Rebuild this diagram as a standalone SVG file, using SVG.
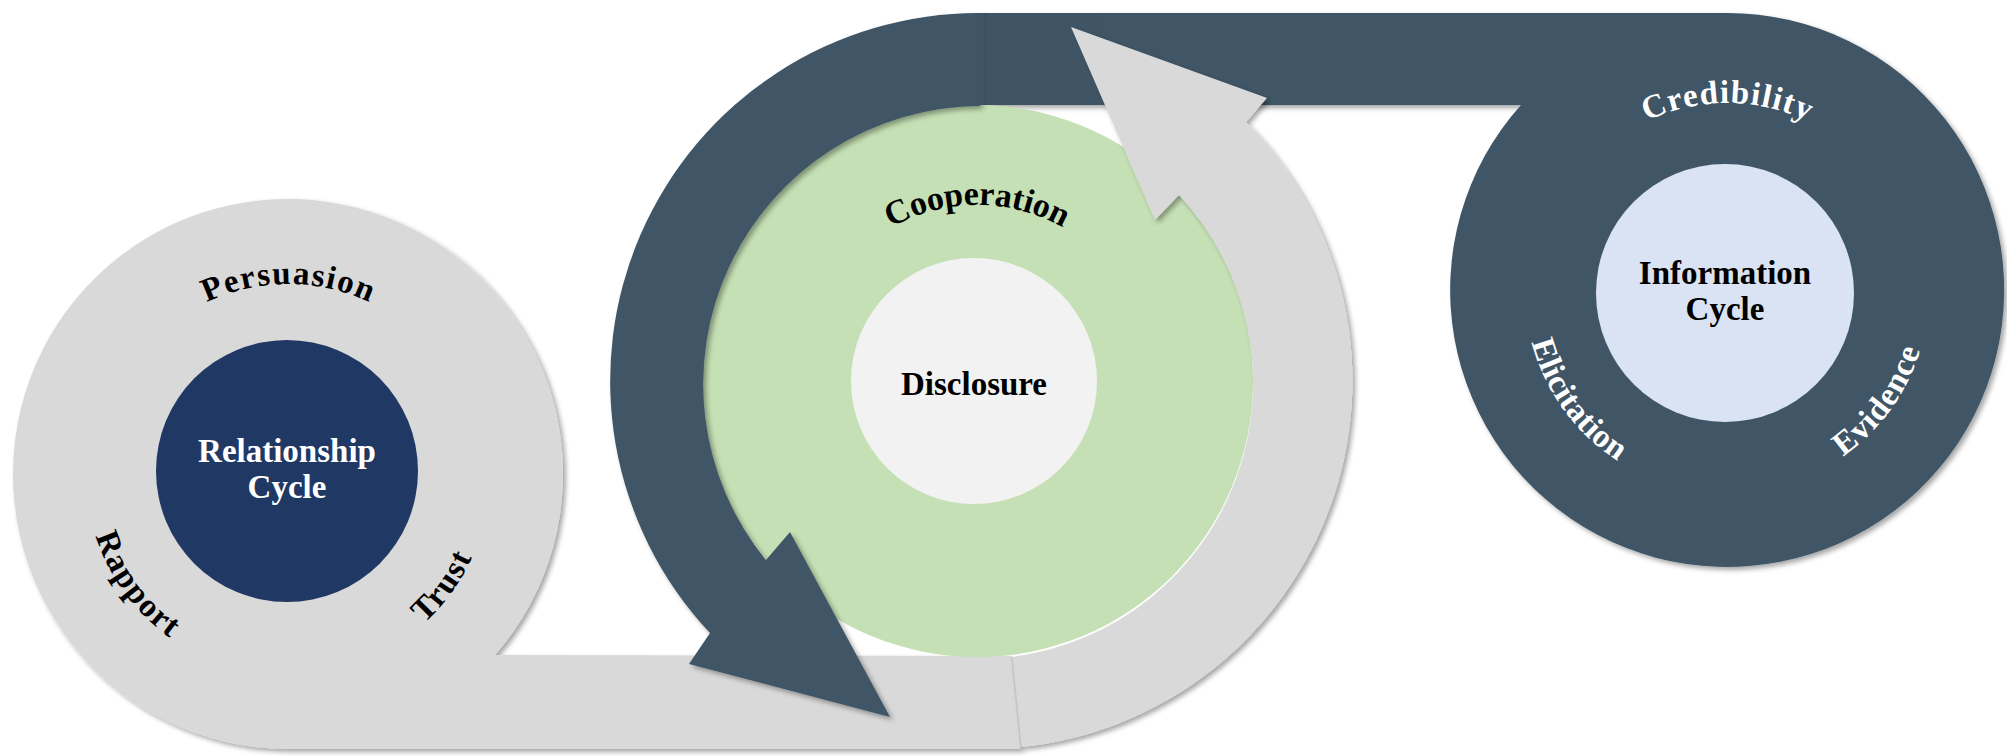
<svg xmlns="http://www.w3.org/2000/svg" xmlns:xlink="http://www.w3.org/1999/xlink" width="2007" height="756" viewBox="0 0 2007 756">
  <defs>
    <style>
      .gray { fill: #D9D9D9; }
      .slate { fill: #3F5565; }
      .navy { fill: #203864; }
      .green { fill: #C5E0B4; }
      .pale { fill: #F2F2F2; }
      .sky { fill: #DAE3F3; }
      .shadow { filter: url(#drop); }
      .seam { stroke: #000; stroke-opacity: 0.08; stroke-width: 1.5; fill: none; }
      .lbl { font-family: "Liberation Serif", "DejaVu Serif", serif; font-weight: bold; }
      .title { font-size: 33px; text-anchor: middle; }
      .ring { font-size: 33px; }
      .coop { font-size: 34px; }
      .dark { fill: #000; }
      .light { fill: #fff; }
    </style>
    <filter id="drop" x="-10%" y="-10%" width="120%" height="120%">
      <feDropShadow dx="3" dy="3" stdDeviation="2.5" flood-color="#000" flood-opacity="0.35"/>
    </filter>
    <!-- label baselines: clockwise circles for the top words, counter-clockwise for the bottom ones -->
    <path id="p-pers" d="M 288 664 A 190 190 0 1 1 288 284 A 190 190 0 1 1 288 664"/>
    <path id="p-low1" d="M 288 272 A 202 202 0 1 0 288 676 A 202 202 0 1 0 288 272"/>
    <path id="p-coop" d="M 977 557 A 176 176 0 1 1 977 205 A 176 176 0 1 1 977 557"/>
    <path id="p-cred" d="M 1727 479 A 188 188 0 1 1 1727 103 A 188 188 0 1 1 1727 479"/>
    <path id="p-low3" d="M 1727 89 A 202 202 0 1 0 1727 493 A 202 202 0 1 0 1727 89"/>
  </defs>

  <rect width="2007" height="756" fill="#fff"/>

  <!-- relationship cycle: ring with its lower band running right -->
  <g id="relationship-cycle">
    <path class="gray shadow" d="M 495 655 A 275 275 0 1 0 288 749 L 1021 749 L 1012 656 Z"/>
    <circle class="navy" cx="287" cy="471" r="131"/>
    <text class="lbl title light"><tspan x="287" y="462">Relationship</tspan><tspan x="287" y="498">Cycle</tspan></text>
    <text class="lbl ring dark"><textPath xlink:href="#p-pers" href="#p-pers" startOffset="50%" text-anchor="middle" textLength="168">Persuasion</textPath></text>
    <text class="lbl ring dark"><textPath xlink:href="#p-low1" href="#p-low1" startOffset="35%" text-anchor="middle" textLength="128">Rapport</textPath></text>
    <text class="lbl ring dark"><textPath xlink:href="#p-low1" href="#p-low1" startOffset="65%" text-anchor="middle" textLength="82">Trust</textPath></text>
  </g>

  <!-- information cycle: ring with its upper band running left -->
  <g id="information-cycle">
    <path class="slate shadow" d="M 980 13 L 1727 13 A 277 277 0 1 1 1521 105 L 980 105 Z"/>
    <circle class="sky" cx="1725" cy="293" r="129"/>
    <text class="lbl title dark"><tspan x="1725" y="284">Information</tspan><tspan x="1725" y="320">Cycle</tspan></text>
    <text class="lbl ring light"><textPath xlink:href="#p-cred" href="#p-cred" startOffset="50%" text-anchor="middle" textLength="166">Credibility</textPath></text>
    <text class="lbl ring light"><textPath xlink:href="#p-low3" href="#p-low3" startOffset="35%" text-anchor="middle" textLength="150">Elicitation</textPath></text>
    <text class="lbl ring light"><textPath xlink:href="#p-low3" href="#p-low3" startOffset="65%" text-anchor="middle" textLength="134">Evidence</textPath></text>
  </g>

  <!-- disclosure cycle: green ring and centre -->
  <g id="disclosure-cycle">
    <circle class="green" cx="977" cy="381" r="276"/>
    <circle class="pale" cx="974" cy="381" r="123"/>
  </g>

  <!-- connectors: the two curved arrows around the disclosure cycle -->
  <g id="connectors">
    <path class="slate shadow" d="M 980 13 A 368 368 0 0 0 710 633 L 689 664 L 890 717 L 790 532 L 766 560 A 278 278 0 0 1 980 106 Z"/>
    <!-- flat patch so the upper band joins the dark arc without a shadow edge -->
    <rect class="slate" x="980" y="13" width="120" height="92"/>
    <path class="gray shadow" d="M 1021 747 A 368 368 0 0 0 1246 122 L 1267 98 L 1071 27 L 1155 220 L 1179 195 A 276 276 0 0 1 1012 657 Z"/>
    <line class="seam" x1="985" y1="13" x2="985" y2="105"/>
    <line class="seam" x1="1012" y1="657" x2="1021" y2="748"/>
  </g>

  <g id="disclosure-labels">
    <text class="lbl title dark" x="974" y="395">Disclosure</text>
    <text class="lbl coop dark"><textPath xlink:href="#p-coop" href="#p-coop" startOffset="50%" text-anchor="middle" textLength="180">Cooperation</textPath></text>
  </g>
</svg>
